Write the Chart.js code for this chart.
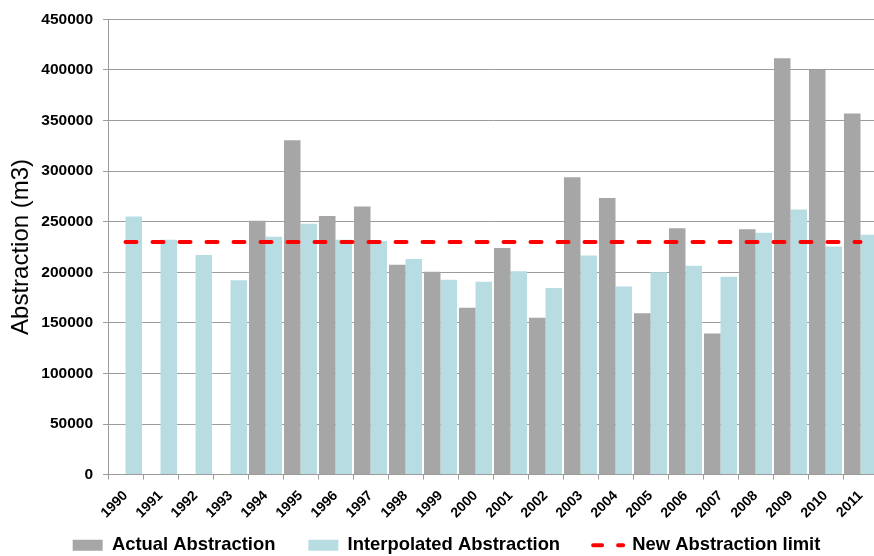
<!DOCTYPE html>
<html>
<head>
<meta charset="utf-8">
<script src="https://cdn.jsdelivr.net/npm/chart.js@4.4.1/dist/chart.umd.min.js"></script>
<style>
  html, body { margin: 0; padding: 0; overflow: hidden; background: #ffffff; }
  #wrap { position: relative; width: 893px; height: 584px; }
</style>
</head>
<body>
<div id="wrap"><canvas id="chart" width="893" height="584"></canvas></div>
<script>
// Yearly abstraction volumes (m3)
const years = ['1990', '1991', '1992', '1993', '1994', '1995', '1996', '1997', '1998', '1999', '2000',
               '2001', '2002', '2003', '2004', '2005', '2006', '2007', '2008', '2009', '2010', '2011'];

const actualAbstraction = [null, null, null, null, 251000, 330500, 255500, 265000, 207500, 200500, 165000,
                           224000, 155000, 294000, 273500, 159500, 243500, 139500, 242500, 411500, 400000, 357000];

const interpolatedAbstraction = [255000, 232000, 217000, 192000, 235000, 248000, 232000, 231000, 213000, 192500, 190500,
                                 201000, 184500, 216500, 186000, 200000, 206500, 195500, 239000, 262000, 225500, 237000];

const newAbstractionLimit = [230000, 230000, 230000, 230000, 230000, 230000, 230000, 230000, 230000, 230000, 230000,
                             230000, 230000, 230000, 230000, 230000, 230000, 230000, 230000, 230000, 230000, 230000];

const yTickLabels = ['0', '50000', '100000', '150000', '200000', '250000', '300000', '350000', '400000', '450000'];

const AXIS_GREY = '#9b9b9b';
const FONT = "'Liberation Sans', Arial, sans-serif";

// Pull the legend row up into the free band beside the rotated year labels
const legendLift = {
  id: 'legendLift',
  afterLayout(chart) {
    const lg = chart.legend;
    if (!lg) return;
    const lift = lg.top - 503;
    lg.top -= lift;
    lg.bottom -= lift;
  }
};

new Chart(document.getElementById('chart'), {
  type: 'bar',
  data: {
    labels: years,
    datasets: [
      {
        label: 'Actual Abstraction',
        data: actualAbstraction,
        backgroundColor: '#A6A6A6',
        borderWidth: 0,
        categoryPercentage: 0.945,
        barPercentage: 1,
        order: 1
      },
      {
        label: 'Interpolated Abstraction',
        data: interpolatedAbstraction,
        backgroundColor: '#B7DDE3',
        borderWidth: 0,
        categoryPercentage: 0.945,
        barPercentage: 1,
        order: 1
      },
      {
        type: 'line',
        label: 'New Abstraction limit',
        data: newAbstractionLimit,
        borderColor: '#FF0000',
        backgroundColor: '#FF0000',
        borderWidth: 4,
        borderDash: [11, 16],
        borderCapStyle: 'round',
        pointRadius: 0,
        fill: false,
        order: 0
      }
    ]
  },
  plugins: [legendLift],
  options: {
    responsive: false,
    animation: false,
    layout: { padding: { top: 18, left: 0, right: 0, bottom: 0 } },
    plugins: {
      tooltip: { enabled: false },
      legend: {
        position: 'bottom',
        labels: {
          color: '#000000',
          font: { family: FONT, size: 18.4, weight: 'bold' },
          usePointStyle: true,
          boxWidth: 30,
          boxHeight: 11,
          pointStyleWidth: 30,
          padding: 33,
          sort: (a, b) => a.datasetIndex - b.datasetIndex,
          generateLabels(chart) {
            const items = Chart.defaults.plugins.legend.labels.generateLabels(chart);
            items.forEach(item => {
              const ds = chart.data.datasets[item.datasetIndex];
              if (ds.type === 'line') {
                item.pointStyle = 'line';
                item.lineWidth = ds.borderWidth;
                item.lineDash = ds.borderDash;
                item.lineDashOffset = 2;
                item.lineCap = 'round';
                item.strokeStyle = ds.borderColor;
              } else {
                item.pointStyle = 'rect';
                item.lineWidth = 0;
              }
            });
            return items;
          }
        }
      }
    },
    scales: {
      x: {
        offset: true,
        grid: { display: true, drawOnChartArea: false, drawTicks: true, tickLength: 5, color: AXIS_GREY, offset: true },
        border: { display: true, color: AXIS_GREY, width: 1 },
        ticks: {
          autoSkip: false,
          minRotation: 45,
          maxRotation: 45,
          padding: 8,
          color: '#000000',
          font: { family: FONT, size: 14, weight: 'bold' }
        },
        afterFit(scale) { scale.height = 48; }
      },
      y: {
        min: 0,
        max: 450000,
        grid: { color: AXIS_GREY, drawTicks: true, tickLength: 5 },
        border: { display: true, color: AXIS_GREY, width: 1 },
        ticks: {
          stepSize: 50000,
          padding: 10,
          color: '#000000',
          font: { family: FONT, size: 15.5, weight: 'bold' },
          callback: (value, index) => yTickLabels[index]
        },
        title: {
          display: true,
          text: 'Abstraction (m3)',
          color: '#000000',
          font: { family: FONT, size: 24 },
          padding: { top: 7, bottom: 0 }
        },
        afterFit(scale) { scale.width = 108; }
      },
      yRight: {
        position: 'right',
        display: true,
        grid: { display: false },
        border: { display: false },
        ticks: { display: false },
        afterFit(scale) { scale.width = 15; }
      }
    }
  }
});
</script>
</body>
</html>
